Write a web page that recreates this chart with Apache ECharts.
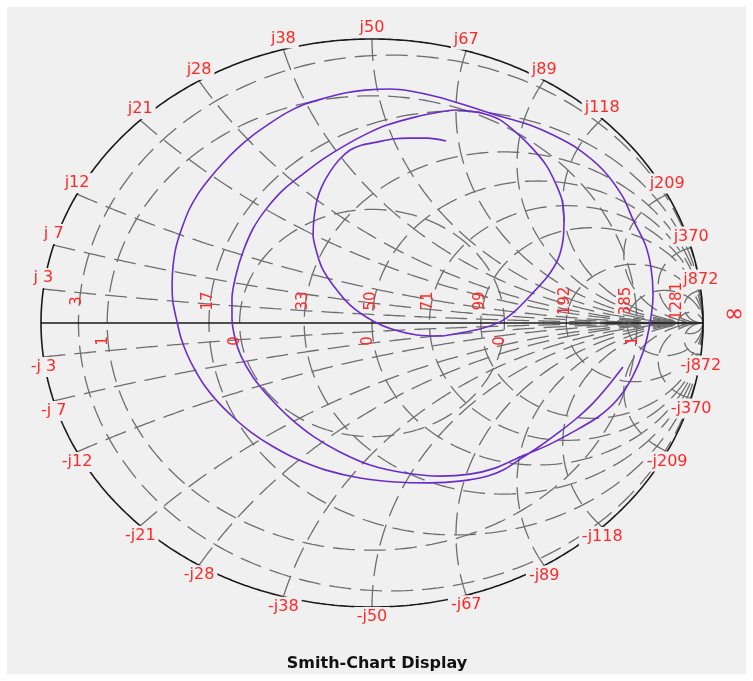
<!DOCTYPE html>
<html>
<head>
<meta charset="utf-8">
<script src="https://cdn.jsdelivr.net/npm/echarts@6/dist/echarts.min.js"></script>
<style>
  html, body { margin: 0; padding: 0; background: #ffffff; }
  #chart { width: 753px; height: 681px; }
</style>
</head>
<body>
<div id="chart"></div>
<script>
// Reference impedance (ohms)
const Z0 = 50;

// Constant-resistance circles (ohms), labelled along the real axis
const resistanceOhms = [3, 17, 33, 50, 71, 99, 192, 385, 1281];

// Constant-reactance arcs (ohms), labelled on the rim as +j / -j
const reactanceOhms = [3, 7, 12, 21, 28, 38, 50, 67, 89, 118, 209, 370, 872];

// Constant |Gamma| rings and the marks printed under the real axis
const gammaRingRadii = [0.4, 0.8];
const gammaMarks = [-0.8, -0.4, 0, 0.4, 0.8];

// Measured sweep, reflection coefficient (real / imaginary parts)
const traceRe = [0.224, 0.169, 0.115, 0.063, 0.015, -0.030, -0.066, -0.100, -0.127, -0.151,
  -0.166, -0.175, -0.178, -0.169, -0.151, -0.118, -0.066, 0.003, 0.069, 0.136,
  0.205, 0.266, 0.326, 0.387, 0.432, 0.477, 0.529, 0.562, 0.577, 0.580,
  0.574, 0.553, 0.526, 0.486, 0.441, 0.387, 0.341, 0.296, 0.251, 0.205,
  0.130, 0.045,
  -0.018, -0.085, -0.148, -0.208, -0.269, -0.320, -0.360, -0.390, -0.411, -0.423,
  -0.423, -0.414, -0.396, -0.360, -0.308, -0.248, -0.175, -0.097, -0.006, 0.100,
  0.205, 0.296, 0.372, 0.447, 0.532, 0.613, 0.683, 0.740, 0.785, 0.819,
  0.840, 0.849, 0.843, 0.825, 0.789, 0.758, 0.698, 0.619, 0.547, 0.477,
  0.417, 0.356, 0.290, 0.199, 0.115, 0.054,
  -0.021, -0.082, -0.142, -0.202, -0.260, -0.311, -0.363, -0.408, -0.453, -0.492,
  -0.526, -0.553, -0.574, -0.592, -0.601, -0.604, -0.601, -0.589, -0.577, -0.559,
  -0.535, -0.505, -0.468, -0.420, -0.366, -0.302, -0.227, -0.139, -0.036, 0.069,
  0.175, 0.272, 0.350, 0.402, 0.453, 0.508, 0.562, 0.616, 0.668, 0.713,
  0.758];
const traceIm = [0.641, 0.651, 0.651, 0.648, 0.637, 0.627, 0.609, 0.574, 0.532, 0.482,
  0.433, 0.370, 0.310, 0.257, 0.194, 0.134, 0.063, 0.007, -0.025, -0.042,
  -0.046, -0.035, -0.021, 0.004, 0.042, 0.095, 0.162, 0.225, 0.292, 0.363,
  0.433, 0.496, 0.556, 0.613, 0.665, 0.715, 0.736, 0.746, 0.750, 0.743,
  0.725, 0.697,
  0.665, 0.623, 0.577, 0.525, 0.468, 0.401, 0.331, 0.250, 0.169, 0.088,
  0.018, -0.053, -0.116, -0.190, -0.264, -0.334, -0.401, -0.454, -0.500, -0.528,
  -0.539, -0.532, -0.511, -0.472, -0.430, -0.380, -0.331, -0.271, -0.194, -0.102,
  0.000, 0.099, 0.194, 0.278, 0.363, 0.444, 0.539, 0.616, 0.662, 0.697,
  0.718, 0.739, 0.764, 0.796, 0.817, 0.824,
  0.820, 0.810, 0.792, 0.771, 0.739, 0.701, 0.658, 0.613, 0.560, 0.507,
  0.454, 0.398, 0.335, 0.268, 0.201, 0.134, 0.070, 0.004, -0.053, -0.109,
  -0.165, -0.222, -0.275, -0.331, -0.384, -0.433, -0.479, -0.518, -0.546, -0.560,
  -0.563, -0.556, -0.539, -0.514, -0.475, -0.433, -0.387, -0.338, -0.282, -0.222,
  -0.155];

// ---- helpers -------------------------------------------------------------
// Normalised impedance z = r + jx  ->  reflection coefficient (z-1)/(z+1)
function zToGamma(r, x) {
  const den = (r + 1) * (r + 1) + x * x;
  return [(r * r - 1 + x * x) / den, (2 * x) / den];
}

const LABEL_RED = '#ff2828';
const GRID_STYLE = { color: '#6e6e6e', width: 1.3, type: [22, 9] };
const series = [];

function addCurve(points, lineStyle, z, smooth) {
  series.push({
    type: 'line', data: points, symbol: 'none', showSymbol: false,
    silent: true, clip: false, animation: false, smooth: smooth || false,
    lineStyle: lineStyle, z: z
  });
}

// constant-resistance circles
resistanceOhms.forEach(function (R) {
  const r = R / Z0, N = 360, pts = [[1, 0]];
  for (let i = 1; i < N; i++) {
    const s = -Math.PI / 2 + Math.PI * i / N;
    pts.push(zToGamma(r, Math.tan(s)));
  }
  pts.push([1, 0]);
  addCurve(pts, GRID_STYLE, 1);
});

// constant-reactance arcs, drawn from the rim inwards to the open-circuit point
reactanceOhms.forEach(function (X) {
  [1, -1].forEach(function (sign) {
    const x = sign * X / Z0, N = 300, pts = [];
    for (let i = 0; i < N; i++) {
      const s = (Math.PI / 2) * i / N;
      pts.push(zToGamma(Math.tan(s), x));
    }
    pts.push([1, 0]);
    addCurve(pts, GRID_STYLE, 1);
  });
});

// constant |Gamma| rings
gammaRingRadii.forEach(function (g) {
  const pts = [];
  for (let i = 0; i <= 360; i++) {
    const a = Math.PI - 2 * Math.PI * i / 360;
    pts.push([g * Math.cos(a), g * Math.sin(a)]);
  }
  addCurve(pts, GRID_STYLE, 1);
});

// outer rim (|Gamma| = 1) and real axis
(function () {
  const pts = [];
  for (let i = 0; i <= 720; i++) {
    const a = 2 * Math.PI * i / 720;
    pts.push([Math.cos(a), Math.sin(a)]);
  }
  addCurve(pts, { color: '#1a1a1a', width: 1.6, type: 'solid' }, 2);
  addCurve([[-1, 0], [1, 0]], { color: '#1a1a1a', width: 1.6, type: 'solid' }, 2);
})();

// measured trace
addCurve(traceRe.map(function (v, i) { return [v, traceIm[i]]; }),
  { color: '#6a2ccc', width: 1.6, type: 'solid' }, 5, 0.25);

// ---- labels ----------------------------------------------------------------
function labelSeries(items, styleFn) {
  series.push({
    type: 'custom', coordinateSystem: 'cartesian2d', silent: true, clip: false,
    animation: false, z: 10,
    data: items.map(function (it, i) { return [it.g[0], it.g[1], i]; }),
    renderItem: function (params, api) {
      const it = items[params.dataIndex];
      const p = api.coord([api.value(0), api.value(1)]);
      return styleFn(it, p);
    }
  });
}

// rim labels: +jX above, -jX below
const rimItems = [];
reactanceOhms.forEach(function (X) {
  const pad = X < 10 ? ' ' : '';
  rimItems.push({ g: zToGamma(0, X / Z0), text: 'j' + pad + X, dy: -11 });
  rimItems.push({ g: zToGamma(0, -X / Z0), text: '-j' + pad + X, dy: 10 });
});
labelSeries(rimItems, function (it, p) {
  return {
    type: 'text', x: p[0], y: p[1] + it.dy,
    style: {
      text: it.text, fill: LABEL_RED, fontSize: 16, fontFamily: 'DejaVu Sans',
      align: 'center', verticalAlign: 'middle',
      backgroundColor: '#f0f0f0', padding: [2, 3]
    }
  };
});

// resistance values above the real axis, rotated
const resItems = resistanceOhms.map(function (R) {
  return { g: zToGamma(R / Z0, 0), text: String(R), dx: -1, dy: -22 };
});
// rounded |Gamma| marks below the real axis, rotated
const gammaItems = gammaMarks.map(function (g) {
  return { g: [g, 0], text: String(Math.round(Math.abs(g))), dx: -4, dy: 18 };
});
labelSeries(resItems.concat(gammaItems), function (it, p) {
  return {
    type: 'text', x: p[0] + it.dx, y: p[1] + it.dy, rotation: Math.PI / 2,
    style: {
      text: it.text, fill: LABEL_RED, fontSize: 15, fontFamily: 'DejaVu Sans',
      align: 'center', verticalAlign: 'middle'
    }
  };
});

// open-circuit end of the axis
labelSeries([{ g: [1, 0], text: '\u221e' }], function (it, p) {
  return {
    type: 'text', x: p[0] + 31, y: p[1] - 8,
    style: {
      text: it.text, fill: LABEL_RED, fontSize: 24, fontFamily: 'DejaVu Sans',
      align: 'center', verticalAlign: 'middle'
    }
  };
});

const chart = echarts.init(document.getElementById('chart'), null, { renderer: 'canvas' });
chart.setOption({
  animation: false,
  backgroundColor: '#ffffff',
  graphic: [{
    type: 'rect', left: 7, top: 7, z: -10, silent: true,
    shape: { width: 739, height: 667 },
    style: { fill: '#f0f0f0' }
  }],
  title: {
    text: 'Smith-Chart Display', left: 372, top: 651, textAlign: 'center',
    textStyle: { fontFamily: 'DejaVu Sans', fontWeight: 'bold', fontSize: 16, color: '#111111' }
  },
  grid: { left: 41, top: 39, width: 662, height: 568, containLabel: false },
  xAxis: { type: 'value', min: -1, max: 1, show: false },
  yAxis: { type: 'value', min: -1, max: 1, show: false },
  series: series
});
</script>
</body>
</html>
